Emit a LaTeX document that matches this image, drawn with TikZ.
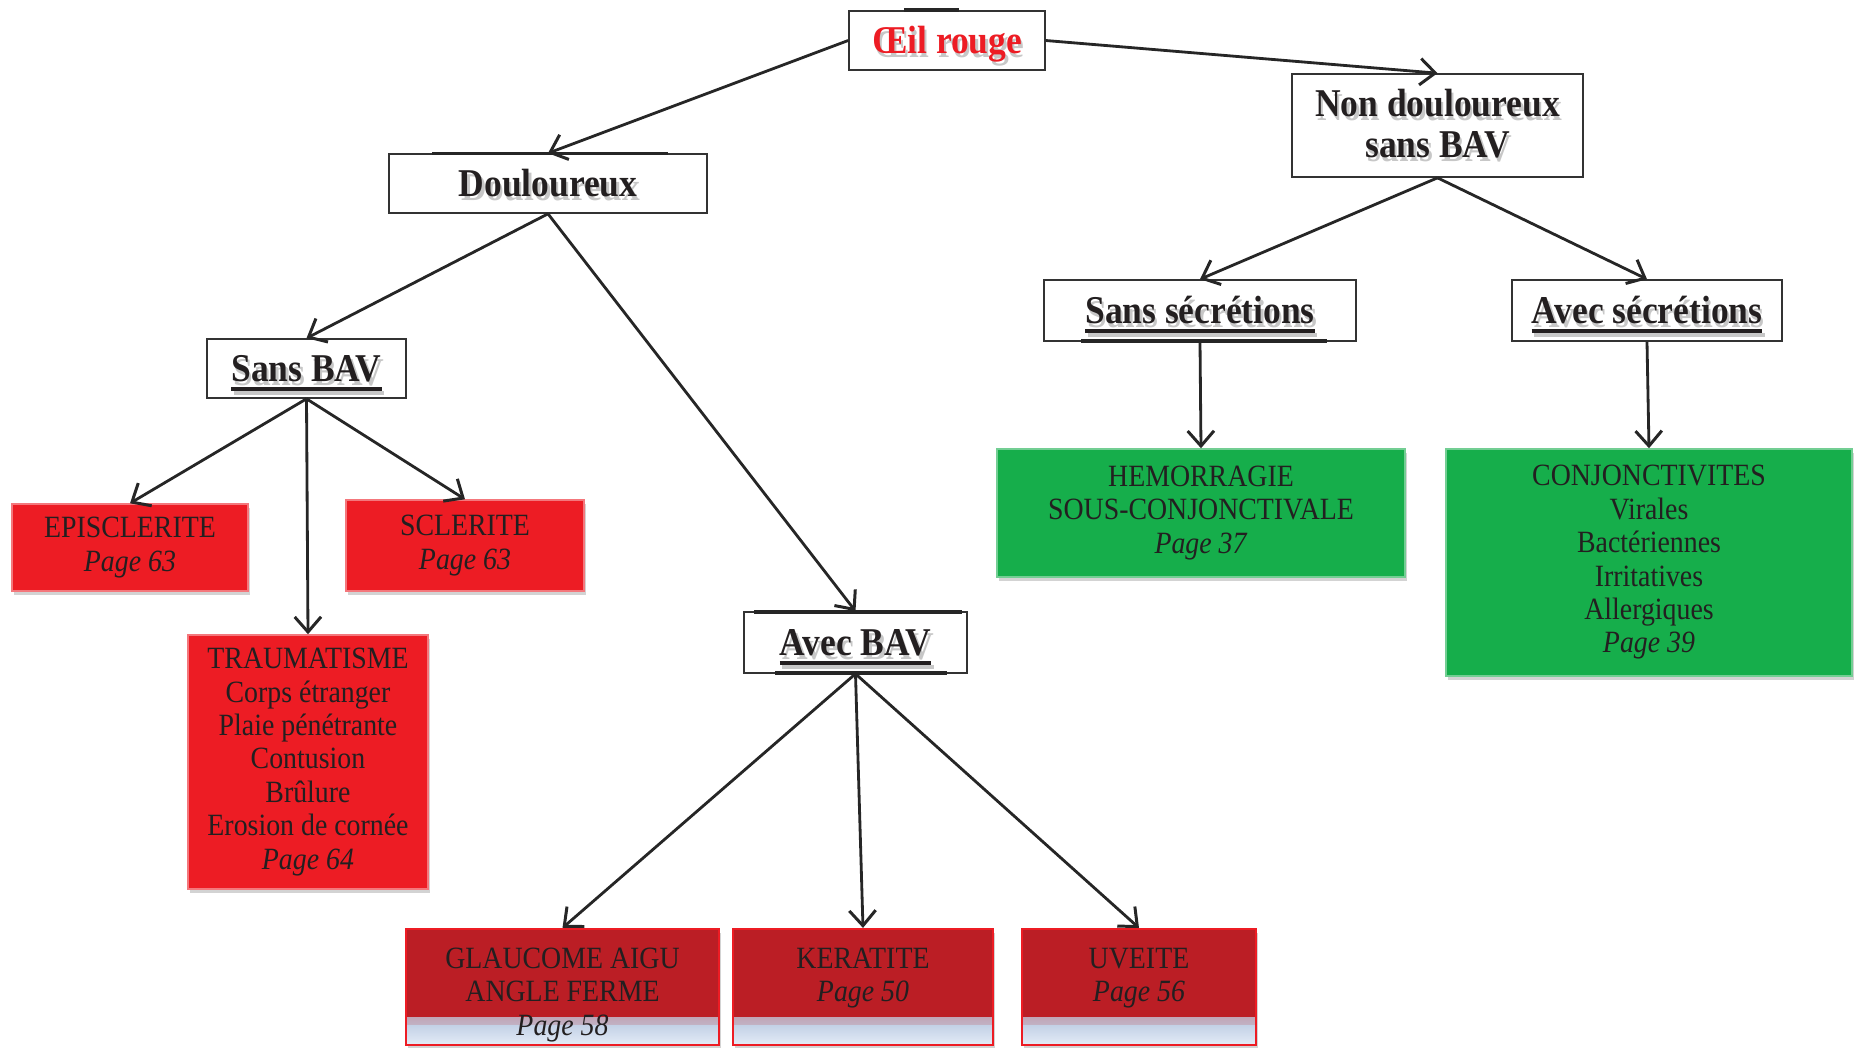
\documentclass[tikz,border=0pt]{standalone}
\usepackage{fontspec}
\setmainfont{Liberation Serif}[FakeStretch=0.9]
\usetikzlibrary{arrows.meta,shadows}
\definecolor{myred}{HTML}{ED1C24}
\definecolor{dred}{HTML}{BB1E25}
\definecolor{mygreen}{HTML}{16AE4B}
\definecolor{txt}{HTML}{231F20}
\definecolor{blueA}{HTML}{C3D1E6}
\definecolor{blueB}{HTML}{E4ECF7}
\newcommand\thul[1]{\setbox0=\hbox{#1}\copy0\llap{\smash{\rule[-2.6pt]{\wd0}{0.95pt}}}}
\newcommand\shd[1]{\leavevmode\rlap{\raisebox{-1.1pt}{\hspace{0.7pt}\color{black!22}#1}}#1}
\tikzset{
  hdbox/.style={draw=black!80, line width=0.45pt, fill=white, inner sep=0pt, align=center,
    font=\fontsize{11.2}{11.5}\selectfont\bfseries, text=txt},
  hdone/.style={hdbox, text height=9pt, text depth=1.6pt},
  shad/.style={drop shadow={opacity=0.35, shadow xshift=0.5pt, shadow yshift=-1.2pt}},
  colbox/.style={inner sep=0pt, align=center, font=\fontsize{8.8}{9.5}\selectfont, text=txt, shad},
  redbox/.style={colbox, fill=myred, draw=myred!60!white, line width=0.4pt},
  greenbox/.style={colbox, fill=mygreen, draw=mygreen!60!white, line width=0.4pt},
  darkbox/.style={colbox, fill=dred, draw=myred, line width=0.6pt, text depth=2pt,
    path picture={
      \shade[top color=dred, bottom color=blueA]
        ([yshift=0.2cm]path picture bounding box.south west) rectangle
        ([yshift=0.28cm]path picture bounding box.south east);
      \shade[top color=blueA, bottom color=blueB]
        (path picture bounding box.south west) rectangle
        ([yshift=0.2cm]path picture bounding box.south east);
    }},
  conn/.style={-{Straight Barb[length=4.3pt,width=7.5pt,line width=0.85pt]}, line width=0.8pt, black!85},
  artline/.style={line width=1pt, black!85}
}
\begin{document}
\begin{tikzpicture}[x=0.01cm, y=-0.01cm]
\useasboundingbox (0,0) rectangle (1854,1047);

% header boxes
\node[hdone, minimum width=1.96cm, minimum height=0.59cm, text=myred] (oeil) at (947,40.5) {\shd{Œil rouge}};
\node[hdone, minimum width=3.18cm, minimum height=0.59cm] (doul) at (548,183.5) {\shd{Douloureux}};
\node[hdbox, minimum width=2.91cm, minimum height=1.03cm] (nond) at (1437.5,125.5) {\shd{Non douloureux}\\\shd{sans BAV}};
\node[hdone, minimum width=1.99cm, minimum height=0.59cm] (sbav) at (306.5,368.5) {\shd{\thul{Sans BAV}}};
\node[hdone, minimum width=2.23cm, minimum height=0.61cm] (abav) at (855.5,642.5) {\shd{\thul{Avec BAV}}};
\node[hdone, minimum width=3.12cm, minimum height=0.61cm] (ssec) at (1200,310.5) {\shd{\thul{Sans sécrétions}}};
\node[hdone, minimum width=2.70cm, minimum height=0.61cm] (asec) at (1647,310.5) {\shd{\thul{Avec sécrétions}}};

% red boxes
\node[redbox, minimum width=2.36cm, minimum height=0.87cm] (epi) at (130,547.5) {EPISCLERITE\\\textit{Page 63}};
\node[redbox, minimum width=2.38cm, minimum height=0.91cm] (scl) at (465,545.5) {SCLERITE\\\textit{Page 63}};
\node[redbox, minimum width=2.40cm, minimum height=2.54cm] (trau) at (308,762) {TRAUMATISME\\Corps étranger\\Plaie pénétrante\\Contusion\\Brûlure\\Erosion de cornée\\\textit{Page 64}};

% dark red boxes
\node[darkbox, text height=29.3pt, minimum width=3.13cm, minimum height=1.16cm] (glau) at (562.5,987) {GLAUCOME AIGU\\ANGLE FERME\\\textit{Page 58}};
\node[darkbox, text height=10.3pt, minimum width=2.60cm, minimum height=1.16cm] (kera) at (863,987) {KERATITE\\\textit{Page 50}};
\node[darkbox, text height=10.3pt, minimum width=2.34cm, minimum height=1.16cm] (uve) at (1139,987) {UVEITE\\\textit{Page 56}};

% green boxes
\node[greenbox, minimum width=4.08cm, minimum height=1.28cm] (hem) at (1201,513) {HEMORRAGIE\\SOUS-CONJONCTIVALE\\\textit{Page 37}};
\node[greenbox, minimum width=4.06cm, minimum height=2.27cm] (conj) at (1649,562.5) {CONJONCTIVITES\\Virales\\Bactériennes\\Irritatives\\Allergiques\\\textit{Page 39}};

% artefact thick border segments
\draw[artline] (904,10) -- (959,10);
\draw[artline] (432,153.5) -- (668,153.5);
\draw[artline] (754,612) -- (962,612);
\draw[artline] (775,673) -- (947,673);
\draw[artline] (1081,341) -- (1327,341);

% connectors
\draw[conn] (oeil.west) -- (doul.north);
\draw[conn] (oeil.east) -- (nond.north);
\draw[conn] (doul.south) -- (sbav.north);
\draw[conn] (doul.south) -- (abav.north);
\draw[conn] (sbav.south) -- (epi.north);
\draw[conn] (sbav.south) -- (trau.north);
\draw[conn] (sbav.south) -- (scl.north);
\draw[conn] (abav.south) -- (glau.north);
\draw[conn] (abav.south) -- (kera.north);
\draw[conn] (abav.south) -- (uve.north);
\draw[conn] (nond.south) -- (ssec.north);
\draw[conn] (nond.south) -- (asec.north);
\draw[conn] (ssec.south) -- (hem.north);
\draw[conn] (asec.south) -- (conj.north);
\end{tikzpicture}
\end{document}
